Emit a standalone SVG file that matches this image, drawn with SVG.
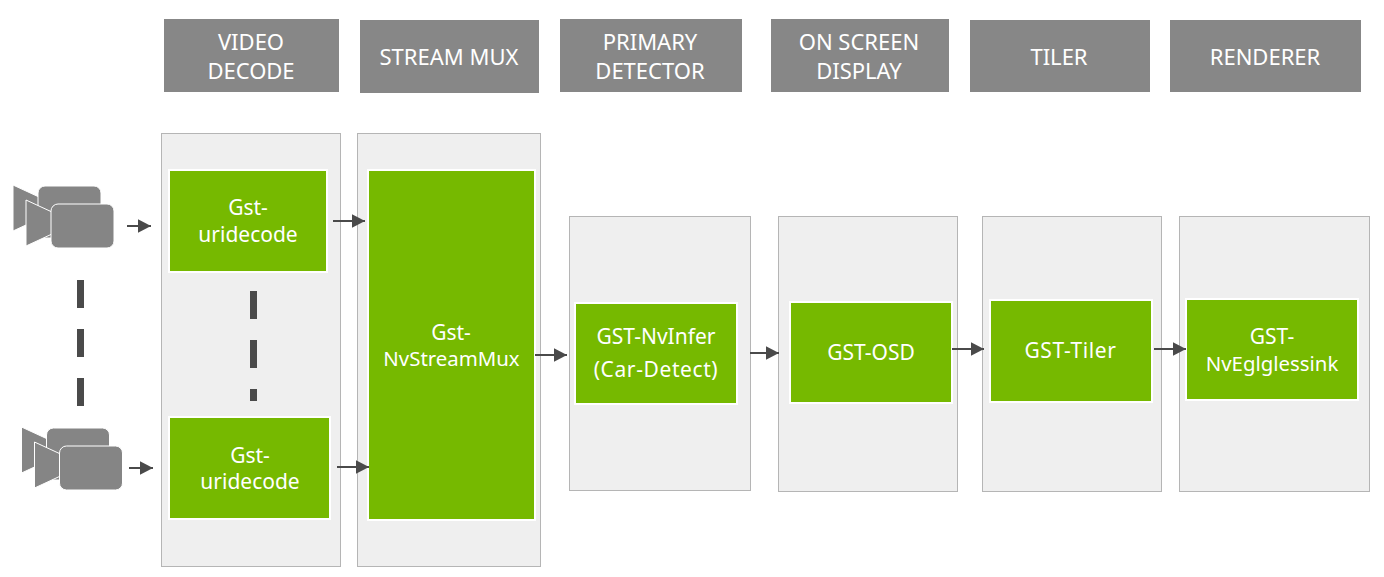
<svg xmlns="http://www.w3.org/2000/svg" width="1384" height="577" viewBox="0 0 1384 577">
<style>
.hdr{fill:#878787}
.panel{fill:#efefef;stroke:#b5b5b5;stroke-width:1}
.box{fill:#76b900;stroke:#ffffff;stroke-width:2}
text{font-family:"Noto Sans","DejaVu Sans",sans-serif;fill:#ffffff;text-anchor:middle}
.h{font-size:22px}
.b{font-size:21px}
.n{font-size:20.400px}
.w{letter-spacing:0.6px}
.cam{fill:#858585;stroke:#ffffff;stroke-width:1}
.arrow{fill:none;stroke:#4a4a4a;stroke-width:2;marker-end:url(#ah)}
.dash{fill:#4a4a4a}
</style>
<defs>
<marker id="ah" markerUnits="userSpaceOnUse" markerWidth="15" markerHeight="16" refX="13.500" refY="8" orient="auto"><path d="M0 1L13.500 8L0 15Z" fill="#4a4a4a"/></marker>
<g id="camera">
<path class="cam" d="M0 0L26 12V34L0 46Z" stroke="none"/>
<rect class="cam" x="25" y="1" width="63" height="52" rx="7"/>
<path class="cam" d="M13 15L39 27V49L13 61Z"/>
<rect class="cam" x="38" y="19" width="63" height="44" rx="7"/>
</g>
</defs>
<g id="hdr-video"><rect class="hdr" x="164" y="19" width="175" height="73"/><text class="h" x="251" y="50">VIDEO</text><text class="h" x="251" y="79">DECODE</text></g>
<g id="hdr-mux"><rect class="hdr" x="360" y="20" width="179" height="73"/><text class="h" x="449" y="65">STREAM MUX</text></g>
<g id="hdr-primary"><rect class="hdr" x="560" y="19" width="182" height="73"/><text class="h" x="650" y="50">PRIMARY</text><text class="h" x="650" y="79">DETECTOR</text></g>
<g id="hdr-osd"><rect class="hdr" x="771" y="19" width="178" height="73"/><text class="h" x="859" y="50">ON SCREEN</text><text class="h" x="859" y="79">DISPLAY</text></g>
<g id="hdr-tiler"><rect class="hdr" x="970" y="20" width="180" height="72"/><text class="h" x="1059" y="65">TILER</text></g>
<g id="hdr-renderer"><rect class="hdr" x="1170" y="20" width="191" height="72"/><text class="h" x="1265" y="65">RENDERER</text></g>
<g id="panels">
<rect class="panel" x="161.500" y="133.500" width="179" height="433"/>
<rect class="panel" x="357.500" y="133.500" width="183" height="433"/>
<rect class="panel" x="569.500" y="216.500" width="181" height="274"/>
<rect class="panel" x="778.500" y="216.500" width="179" height="275"/>
<rect class="panel" x="982.500" y="216.500" width="179" height="275"/>
<rect class="panel" x="1179.500" y="216.500" width="190" height="275"/>
</g>
<g id="camera-1"><use href="#camera" x="13" y="185"/></g>
<g id="camera-2"><use href="#camera" x="21.500" y="427"/></g>
<g id="node-decode-1"><rect class="box" x="169" y="170" width="158" height="102"/><text class="b" x="248" y="215">Gst-</text><text class="b" x="248" y="242">uridecode</text></g>
<g id="node-decode-2"><rect class="box" x="169" y="417" width="161" height="102"/><text class="b" x="250" y="463">Gst-</text><text class="b" x="250" y="489">uridecode</text></g>
<g id="node-mux"><rect class="box" x="368" y="170" width="167" height="350"/><text class="b" x="451" y="340">Gst-</text><text class="n" x="451.500" y="366">NvStreamMux</text></g>
<g id="node-infer"><rect class="box" x="575" y="303" width="162" height="101"/><text class="b" x="656" y="344">GST-NvInfer</text><text class="b w" x="656" y="377">(Car-Detect)</text></g>
<g id="node-osd"><rect class="box" x="790" y="302" width="162" height="101"/><text class="b" x="871" y="360">GST-OSD</text></g>
<g id="node-tiler"><rect class="box" x="990" y="300" width="162" height="102"/><text class="b w" x="1070.500" y="358">GST-Tiler</text></g>
<g id="node-egl"><rect class="box" x="1186" y="299" width="172" height="101"/><text class="b" x="1272" y="344">GST-</text><text class="n" x="1272" y="371">NvEglglessink</text></g>
<g id="connectors">
<path class="arrow" d="M127 226H151"/>
<path class="arrow" d="M333 221H365"/>
<path class="arrow" d="M129 468H153"/>
<path class="arrow" d="M337 467H369"/>
<path class="arrow" d="M535 355H567"/>
<path class="arrow" d="M750 353H779"/>
<path class="arrow" d="M952 349H984"/>
<path class="arrow" d="M1154 349H1186"/>
<rect class="dash" x="77" y="280" width="7" height="28"/>
<rect class="dash" x="77" y="329" width="7" height="28"/>
<rect class="dash" x="77" y="378" width="7" height="28"/>
<rect class="dash" x="250" y="291" width="7" height="28"/>
<rect class="dash" x="250" y="340" width="7" height="28"/>
<rect class="dash" x="250" y="389" width="7" height="12"/>
</g>
</svg>
